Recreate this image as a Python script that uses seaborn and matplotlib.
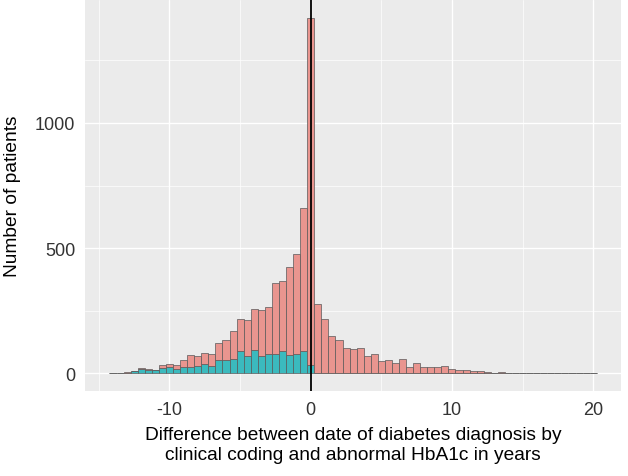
"""Stacked histogram of diagnosis-date differences (coding vs abnormal HbA1c)."""

import matplotlib

matplotlib.use("Agg")
import matplotlib.pyplot as plt
import pandas as pd
import seaborn as sns

# Bin centres (years) of the 0.5-year bins, left part has both groups.
left_centres = [
    -14.0, -13.5, -13.0, -12.5, -12.0, -11.5, -11.0, -10.5, -10.0, -9.5,
    -9.0, -8.5, -8.0, -7.5, -7.0, -6.5, -6.0, -5.5, -5.0, -4.5,
    -4.0, -3.5, -3.0, -2.5, -2.0, -1.5, -1.0, -0.5, 0.0,
]
right_centres = [
    0.5, 1.0, 1.5, 2.0, 2.5, 3.0, 3.5, 4.0, 4.5, 5.0,
    5.5, 6.0, 6.5, 7.0, 7.5, 8.0, 8.5, 9.0, 9.5, 10.0,
    10.5, 11.0, 11.5, 12.0, 12.5, 13.0, 13.5, 14.0, 14.5, 15.0,
    15.5, 16.0, 16.5, 17.0, 17.5, 18.0, 18.5, 19.0, 19.5, 20.0,
]

# Teal group (only before / at zero).
teal_left = [
    0, 0, 2, 9, 17, 15, 12, 21, 24, 16,
    26, 27, 29, 37, 31, 54, 54, 58, 89, 69,
    92, 69, 79, 77, 89, 75, 77, 89, 35,
]
# Pink group, stacked on top of teal.
pink_left = [
    2, 2, 2, 1, 4, 4, 3, 13, 13, 19,
    29, 48, 42, 45, 48, 68, 81, 112, 127, 144,
    166, 183, 186, 282, 280, 351, 399, 570, 1385,
]
pink_right = [
    276, 215, 149, 135, 103, 99, 100, 68, 79, 51,
    55, 41, 56, 26, 40, 24, 25, 27, 30, 17,
    12, 12, 10, 10, 4, 1, 4, 3, 2, 1,
    1, 1, 1, 1, 1, 1, 3, 2, 1, 1,
]

x_ticks = [-10, 0, 10, 20]
y_ticks = [0, 500, 1000]
x_label = ("Difference between date of diabetes diagnosis by\n"
           "clinical coding and abnormal HbA1c in years")
y_label = "Number of patients"

PINK = "#E9958F"
TEAL = "#3BBABE"


def main() -> None:
    # Long table: one row per bin and group, count used as weight.
    frame = pd.concat(
        [
            pd.DataFrame({"diff": left_centres, "n": pink_left, "group": "pink"}),
            pd.DataFrame({"diff": right_centres, "n": pink_right, "group": "pink"}),
            pd.DataFrame({"diff": left_centres, "n": teal_left, "group": "teal"}),
        ],
        ignore_index=True,
    )

    sns.set_theme(
        style="darkgrid",
        rc={
            "axes.facecolor": "#EBEBEB",
            "grid.color": "white",
            "axes.edgecolor": "#EBEBEB",
        },
    )
    plt.rcParams["font.family"] = ["Liberation Sans", "DejaVu Sans"]

    fig = plt.figure(figsize=(6.28, 4.77), dpi=100)
    ax = fig.add_axes([0.1355, 0.178, 0.8535, 0.82])

    sns.histplot(
        data=frame,
        x="diff",
        weights="n",
        hue="group",
        hue_order=["pink", "teal"],
        palette={"pink": PINK, "teal": TEAL},
        multiple="stack",
        binwidth=0.5,
        binrange=(-14.25, 20.25),
        alpha=1.0,
        edgecolor="#595959",
        linewidth=0.5,
        legend=False,
        ax=ax,
    )
    ax.axvline(0, color="black", linewidth=1.3, zorder=5)

    ax.set_xlim(-15.975, 21.975)
    ax.set_ylim(-71, 1491)
    ax.set_xticks(x_ticks)
    ax.set_xticklabels([str(t) for t in x_ticks])
    ax.set_yticks(y_ticks)
    ax.set_yticklabels([str(t) for t in y_ticks])
    ax.set_xticks([-15, -5, 5, 15], minor=True)
    ax.set_yticks([250, 750, 1250], minor=True)
    ax.grid(True, which="major", color="white", linewidth=1.0)
    ax.grid(True, which="minor", color="white", linewidth=0.5)
    ax.set_axisbelow(True)
    ax.tick_params(axis="both", which="major", length=3, width=0.6,
                   color="#333333", labelsize=13, labelcolor="#333333", pad=4)
    ax.tick_params(axis="both", which="minor", length=0)
    for spine in ax.spines.values():
        spine.set_visible(False)

    ax.set_xlabel(x_label, fontsize=13.8, color="black", labelpad=6,
                  linespacing=1.2)
    ax.set_ylabel(y_label, fontsize=13.8, color="black", labelpad=10)

    fig.savefig("out.png", dpi=100)
    plt.close(fig)


if __name__ == "__main__":
    main()
